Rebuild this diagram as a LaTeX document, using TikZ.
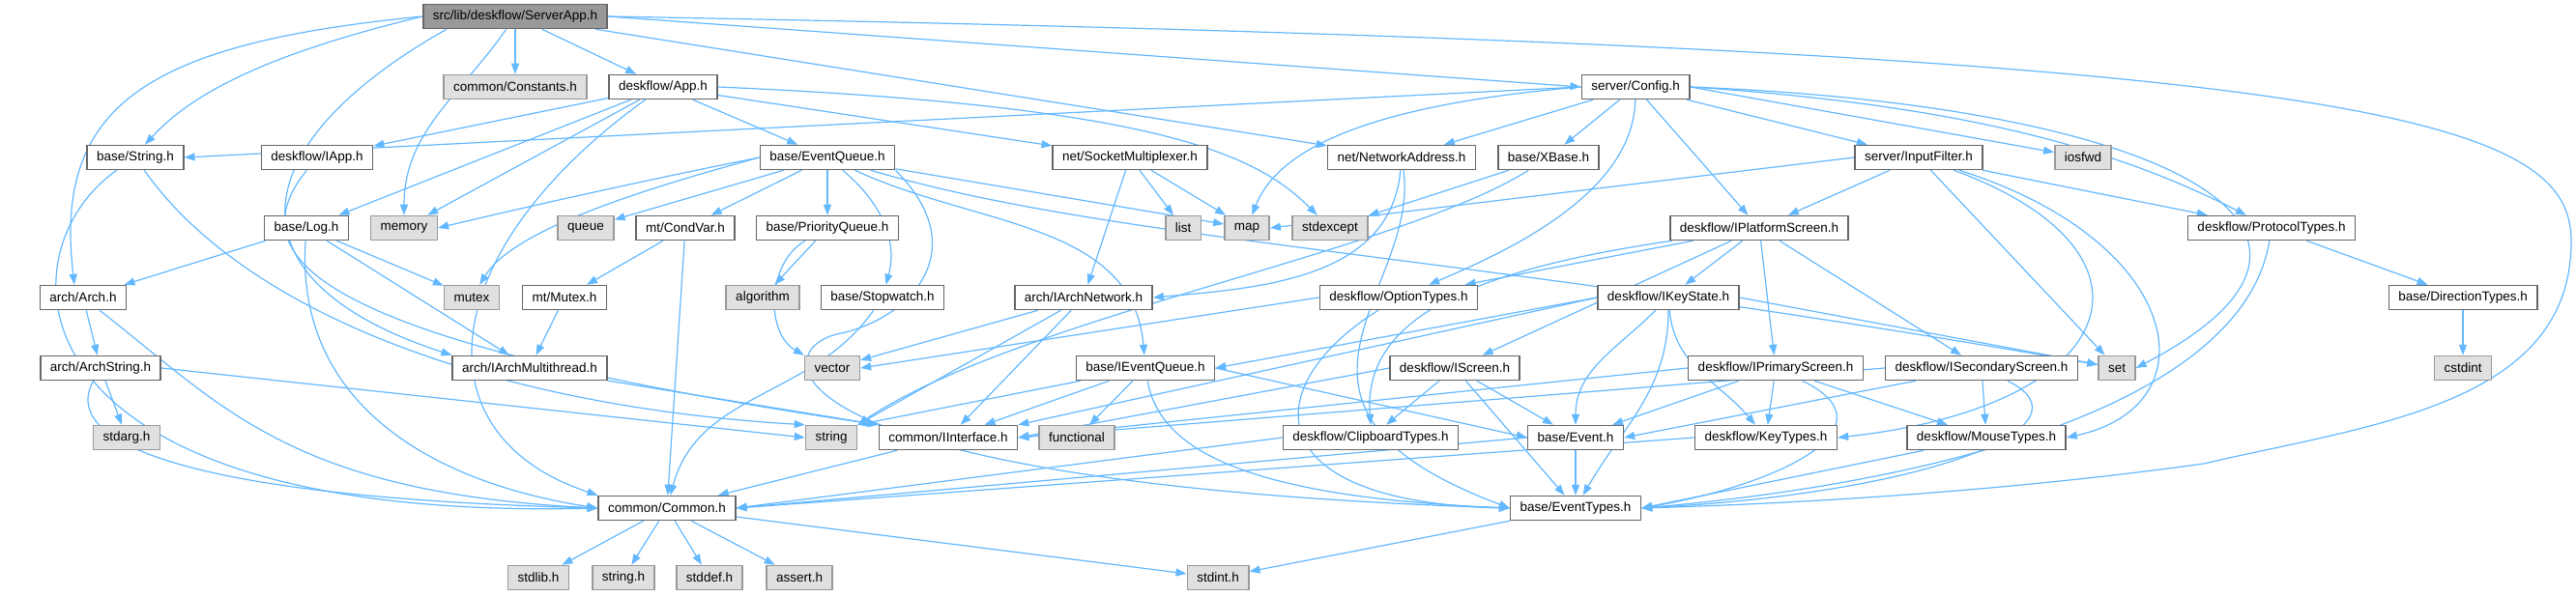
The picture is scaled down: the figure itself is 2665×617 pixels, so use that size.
\documentclass[tikz,border=0pt]{standalone}
\usepackage{fontspec}
\setmainfont{Liberation Sans}
\usetikzlibrary{arrows.meta,backgrounds}

\definecolor{edgeblue}{HTML}{63B8FF}
\definecolor{boxline}{HTML}{666666}
\definecolor{sysline}{HTML}{999999}
\definecolor{sysfill}{HTML}{E0E0E0}

\tikzset{
  hdr/.style={draw=boxline, line width=1.5pt, fill=white, minimum height=25pt,
    inner xsep=10pt, inner ysep=0pt, font=\fontsize{13.5}{15}\selectfont},
  syshdr/.style={hdr, draw=sysline, fill=sysfill},
  mainhdr/.style={hdr, fill=sysline},
  dep/.style={draw=edgeblue, line width=1.2pt, -{Triangle[length=11pt,width=8pt]}}
}

\begin{document}
\begin{tikzpicture}[x=1pt,y=-1pt]

  % Frame
  \useasboundingbox (0,0) rectangle (2665,617);

  % Row 1
  \node[mainhdr] (srvapp) at (533,17) {src/lib/deskflow/ServerApp.h};

  % Row 2
  \node[syshdr] (constants) at (533,90) {common/Constants.h};
  \node[hdr] (app) at (686,90) {deskflow/App.h};
  \node[hdr] (config) at (1692,90) {server/Config.h};

  % Row 3
  \node[hdr] (string) at (140,163) {base/String.h};
  \node[hdr] (iapp) at (328,163) {deskflow/IApp.h};
  \node[hdr] (evq) at (856,163) {base/EventQueue.h};
  \node[hdr] (sockmux) at (1169,163) {net/SocketMultiplexer.h};
  \node[hdr] (netaddr) at (1450,163) {net/NetworkAddress.h};
  \node[hdr] (xbase) at (1602,163) {base/XBase.h};
  \node[hdr] (inputfilter) at (1985,163) {server/InputFilter.h};
  \node[syshdr] (iosfwd) at (2155,163) {iosfwd};

  % Row 4
  \node[hdr] (log) at (317,236) {base/Log.h};
  \node[syshdr] (memory) at (418,236) {memory};
  \node[syshdr] (queue) at (606,236) {queue};
  \node[hdr] (condvar) at (709,236) {mt/CondVar.h};
  \node[hdr] (prioq) at (856,236) {base/PriorityQueue.h};
  \node[syshdr] (list) at (1224,236) {list};
  \node[syshdr] (map) at (1290,236) {map};
  \node[syshdr] (stdexcept) at (1376,236) {stdexcept};
  \node[hdr] (iplatform) at (1820,236) {deskflow/IPlatformScreen.h};
  \node[hdr] (protocol) at (2350,236) {deskflow/ProtocolTypes.h};

  % Row 5
  \node[hdr] (arch) at (86,308) {arch/Arch.h};
  \node[syshdr] (mutex) at (488,308) {mutex};
  \node[hdr] (mutexh) at (584,308) {mt/Mutex.h};
  \node[syshdr] (algorithm) at (789,308) {algorithm};
  \node[hdr] (stopwatch) at (913,308) {base/Stopwatch.h};
  \node[hdr] (iarchnet) at (1121,308) {arch/IArchNetwork.h};
  \node[hdr] (optiontypes) at (1447,308) {deskflow/OptionTypes.h};
  \node[hdr] (ikeystate) at (1726,308) {deskflow/IKeyState.h};
  \node[hdr] (direction) at (2548,308) {base/DirectionTypes.h};

  % Row 6
  \node[hdr] (archstring) at (104,381) {arch/ArchString.h};
  \node[hdr] (iarchmt) at (548,381) {arch/IArchMultithread.h};
  \node[syshdr] (vector) at (861,381) {vector};
  \node[hdr] (ievq) at (1185,381) {base/IEventQueue.h};
  \node[hdr] (iscreen) at (1505,381) {deskflow/IScreen.h};
  \node[hdr] (iprimary) at (1837,381) {deskflow/IPrimaryScreen.h};
  \node[hdr] (isecondary) at (2050,381) {deskflow/ISecondaryScreen.h};
  \node[syshdr] (set) at (2190,381) {set};
  \node[syshdr] (cstdint) at (2548,381) {cstdint};

  % Row 7
  \node[syshdr] (stdarg) at (131,453) {stdarg.h};
  \node[syshdr] (stdstring) at (860,453) {string};
  \node[hdr] (iinterface) at (981,453) {common/IInterface.h};
  \node[syshdr] (functional) at (1114,453) {functional};
  \node[hdr] (clipboard) at (1418,453) {deskflow/ClipboardTypes.h};
  \node[hdr] (event) at (1630,453) {base/Event.h};
  \node[hdr] (keytypes) at (1827,453) {deskflow/KeyTypes.h};
  \node[hdr] (mousetypes) at (2055,453) {deskflow/MouseTypes.h};

  % Row 8
  \node[hdr] (common) at (690,526) {common/Common.h};
  \node[hdr] (eventtypes) at (1630,526) {base/EventTypes.h};

  % Row 9
  \node[syshdr] (stdlib) at (557,598) {stdlib.h};
  \node[syshdr] (stringh) at (645,598) {string.h};
  \node[syshdr] (stddef) at (734,598) {stddef.h};
  \node[syshdr] (assert) at (827,598) {assert.h};
  \node[syshdr] (stdint) at (1260,598) {stdint.h};

  \begin{scope}[on background layer]

  % ServerApp.h includes
  \draw[dep] (srvapp.west) .. controls (150,45) and (55,110) .. ([xshift=-9pt]arch.north);
  \draw[dep] (srvapp.west) .. controls (280,55) and (200,95) .. ([xshift=10pt]string.north);
  \draw[dep] ([xshift=25pt]srvapp.south west) .. controls (250,150) and (230,290) .. (iarchmt.north west);
  \draw[dep] (srvapp) to[out=235,in=90] (memory.north);
  \draw[dep] (srvapp) -- (constants);
  \draw[dep] (srvapp) -- (app);
  \draw[dep] (srvapp.east) -- (config.west);
  \draw[dep] (srvapp) -- (netaddr);
  \draw[dep] (srvapp.east) .. controls (2450,50) and (2660,120) .. (2660,250)
    .. controls (2660,420) and (2450,440) .. (2280,480)
    .. controls (2100,505) and (1900,520) .. (eventtypes.east);

  % App.h includes
  \draw[dep] (app) -- (iapp);
  \draw[dep] (app) -- (log);
  \draw[dep] (app) -- (memory);
  \draw[dep] (app) .. controls (450,260) and (430,450) .. (common.north west);
  \draw[dep] (app) -- (evq);
  \draw[dep] (app) -- (sockmux);
  \draw[dep] (app.east) .. controls (1200,110) and (1300,160) .. (stdexcept);

  % Config.h includes
  \draw[dep] (config.west) -- (string.east);
  \draw[dep] (config.west) .. controls (1400,110) and (1320,160) .. (map);
  \draw[dep] (config) -- (netaddr);
  \draw[dep] (config) -- (xbase);
  \draw[dep] (config) .. controls (1690,200) and (1560,260) .. (optiontypes);
  \draw[dep] (config) -- (iplatform);
  \draw[dep] (config) -- (inputfilter);
  \draw[dep] (config.east) -- (iosfwd);
  \draw[dep] (config.east) .. controls (2050,110) and (2200,160) .. (protocol);
  \draw[dep] (config.east) .. controls (2250,110) and (2480,240) .. (set.east);

  % base headers
  \draw[dep] (string) .. controls (0,260) and (0,540) .. (common.west);
  \draw[dep] (string) .. controls (250,320) and (500,420) .. (stdstring.north west);
  \draw[dep] (iapp) .. controls (250,260) and (300,350) .. (iinterface.north west);
  \draw[dep] (log) -- (arch);
  \draw[dep] (log) .. controls (305,420) and (450,500) .. (common.west);
  \draw[dep] (log) -- (iarchmt);
  \draw[dep] (log) -- (mutex);

  % EventQueue.h includes
  \draw[dep] (evq.west) .. controls (650,190) and (520,220) .. (memory.east);
  \draw[dep] (evq.west) .. controls (650,200) and (530,240) .. (mutex);
  \draw[dep] (evq) -- (queue);
  \draw[dep] (evq) -- (condvar);
  \draw[dep] (evq) -- (prioq);
  \draw[dep] (evq) to[out=-40,in=75] (stopwatch);
  \draw[dep] (evq.south east) .. controls (1010,260) and (940,330) .. (870,345)
    .. controls (790,360) and (780,500) .. (eventtypes.west);
  \draw[dep] (evq) to[out=-25,in=95] (ievq);
  \draw[dep] (evq) .. controls (1150,250) and (1500,260) .. (set);
  \draw[dep] (evq) -- (map);

  % threads
  \draw[dep] (condvar) -- (mutexh);
  \draw[dep] (condvar) -- (common);
  \draw[dep] (mutexh) -- (iarchmt);
  \draw[dep] (prioq) -- (algorithm);
  \draw[dep] (prioq) to[out=-150,in=150] (vector.north west);
  \draw[dep] (stopwatch) to[out=-125,in=75] (common);

  % net headers
  \draw[dep] (sockmux) -- (list);
  \draw[dep] (sockmux) -- (map);
  \draw[dep] (sockmux) -- (iarchnet);
  \draw[dep] (netaddr) to[out=-95,in=5] (iarchnet.east);
  \draw[dep] (netaddr) .. controls (1470,300) and (1280,420) .. (eventtypes.west);
  \draw[dep] (xbase) -- (stdexcept);
  \draw[dep] (xbase) .. controls (1450,260) and (1050,330) .. (stdstring.north east);

  % InputFilter.h includes
  \draw[dep] (inputfilter.west) -- (map.east);
  \draw[dep] (inputfilter) -- (iplatform);
  \draw[dep] (inputfilter) -- (set);
  \draw[dep] (inputfilter) .. controls (2250,260) and (2200,420) .. (keytypes.east);
  \draw[dep] (inputfilter) .. controls (2260,250) and (2290,420) .. (mousetypes.east);
  \draw[dep] (inputfilter) -- (protocol);
  \draw[dep] (protocol) -- (direction);
  \draw[dep] (protocol) .. controls (2320,420) and (2000,500) .. (eventtypes.east);
  \draw[dep] (direction) -- (cstdint);

  % IPlatformScreen.h includes
  \draw[dep] (iplatform) -- (optiontypes);
  \draw[dep] (iplatform) .. controls (1520,280) and (1410,330) .. (clipboard.north);
  \draw[dep] (iplatform) -- (ikeystate);
  \draw[dep] (iplatform) -- (iscreen);
  \draw[dep] (iplatform) -- (iprimary);
  \draw[dep] (iplatform) -- (isecondary);

  % screen headers
  \draw[dep] (optiontypes.west) -- (vector.east);
  \draw[dep] (optiontypes) .. controls (1300,400) and (1300,520) .. (eventtypes.west);
  \draw[dep] (ikeystate.west) -- (ievq.east);
  \draw[dep] (ikeystate.west) -- (iinterface.north east);
  \draw[dep] (ikeystate) to[out=-135,in=90] (event);
  \draw[dep] (ikeystate) to[out=-90,in=60] (eventtypes);
  \draw[dep] (ikeystate) to[out=-85,in=130] (keytypes);
  \draw[dep] (ikeystate.east) -- (set);
  \draw[dep] (iscreen) -- (clipboard);
  \draw[dep] (iscreen) -- (event);
  \draw[dep] (iscreen) -- (eventtypes);
  \draw[dep] (iscreen.west) -- (iinterface.east);
  \draw[dep] (iprimary.west) -- (iinterface.east);
  \draw[dep] (iprimary) -- (event);
  \draw[dep] (iprimary) -- (keytypes);
  \draw[dep] (iprimary) -- (mousetypes);
  \draw[dep] (iprimary) .. controls (1960,440) and (1850,500) .. (eventtypes.east);
  \draw[dep] (isecondary.west) -- (iinterface.east);
  \draw[dep] (isecondary) -- (event.east);
  \draw[dep] (isecondary) -- (mousetypes);
  \draw[dep] (isecondary) .. controls (2170,440) and (2000,510) .. (eventtypes.east);

  % IEventQueue.h and IArchNetwork.h
  \draw[dep] (ievq) -- (stdstring.north east);
  \draw[dep] (ievq) -- (iinterface);
  \draw[dep] (ievq) -- (functional);
  \draw[dep] (ievq.east) -- (event.west);
  \draw[dep] (ievq) .. controls (1200,470) and (1300,515) .. (eventtypes.west);
  \draw[dep] (iarchnet) -- (vector);
  \draw[dep] (iarchnet) -- (stdstring.north east);
  \draw[dep] (iarchnet) -- (iinterface);

  % arch headers
  \draw[dep] (arch) -- (archstring);
  \draw[dep] (arch) .. controls (230,420) and (300,510) .. (common.west);
  \draw[dep] (archstring) -- (stdarg);
  \draw[dep] (archstring) .. controls (60,460) and (200,515) .. (common.west);
  \draw[dep] (archstring.east) -- (stdstring.west);
  \draw[dep] (iarchmt) -- (iinterface.north west);

  % leaf headers
  \draw[dep] (iinterface) -- (common);
  \draw[dep] (clipboard.west) -- (common.east);
  \draw[dep] (event.west) -- (common.east);
  \draw[dep] (event) -- (eventtypes);
  \draw[dep] (keytypes.west) -- (common.east);
  \draw[dep] (mousetypes) -- (eventtypes.east);

  % Common.h includes
  \draw[dep] (common) -- (stdlib);
  \draw[dep] (common) -- (stringh);
  \draw[dep] (common) -- (stddef);
  \draw[dep] (common) -- (assert);
  \draw[dep] (common) -- (stdint);
  \draw[dep] (eventtypes) -- (stdint);

  \end{scope}

\end{tikzpicture}
\end{document}
